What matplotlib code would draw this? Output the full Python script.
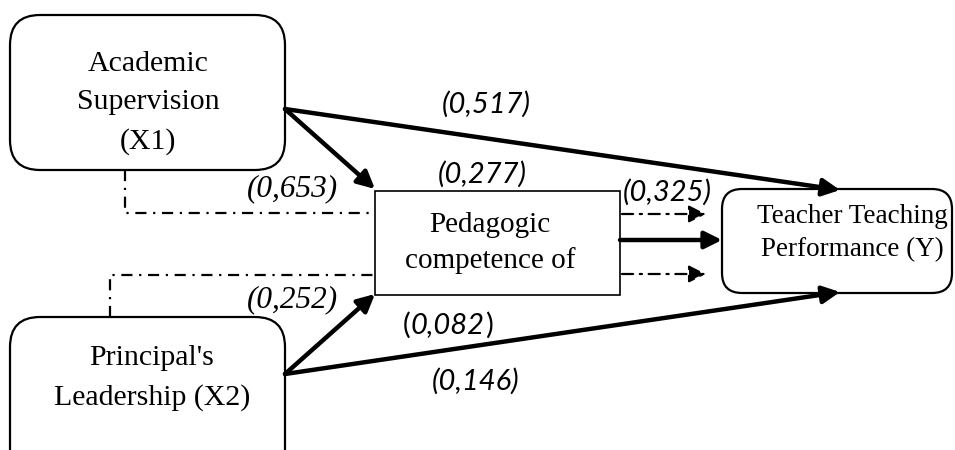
import matplotlib.pyplot as plt
from matplotlib.patches import FancyBboxPatch, Rectangle, FancyArrowPatch

# path diagram values
node_labels = {
    "X1": "Academic\nSupervision\n(X1)",
    "X2": "Principal's\nLeadership (X2)",
    "M": "Pedagogic\ncompetence of",
    "Y": "Teacher Teaching\nPerformance (Y)",
}
coef_labels = ["(0,517)", "(0,277)", "(0,325)", "(0,653)", "(0,252)", "(0,082)", "(0,146)"]

fig = plt.figure(figsize=(9.55, 4.5), dpi=100)
ax = fig.add_axes([0, 0, 1, 1])
ax.set_xlim(0, 955)
ax.set_ylim(450, 0)
ax.axis("off")

serif = "Liberation Serif"
sans = "Lato"

# boxes (pixel coordinates, y downwards)
ax.add_patch(FancyBboxPatch((40, 45), 215, 95, boxstyle="round,pad=30",
                            fc="white", ec="black", lw=1.6, zorder=2))
ax.add_patch(FancyBboxPatch((40, 347), 215, 120, boxstyle="round,pad=30",
                            fc="white", ec="black", lw=1.6, zorder=2))
ax.add_patch(Rectangle((375, 191), 245, 104, fc="white", ec="black", lw=1.2, zorder=2))
ax.add_patch(FancyBboxPatch((742, 209), 190, 64, boxstyle="round,pad=20",
                            fc="white", ec="black", lw=1.6, zorder=2))

ax.text(148, 103, node_labels["X1"], family=serif, fontsize=21.5, ha="center", va="center",
        linespacing=1.6, zorder=3)
ax.text(152, 378, node_labels["X2"], family=serif, fontsize=21.5, ha="center", va="center",
        linespacing=1.6, zorder=3)
ax.text(490, 243, node_labels["M"], family=serif, fontsize=21, ha="center", va="center",
        linespacing=1.42, zorder=3)
ax.text(852, 233, node_labels["Y"], family=serif, fontsize=19.5, ha="center", va="center",
        linespacing=1.47, zorder=3)


def arrow(p0, p1, lw=3.2, ls="-", scale=26):
    a = FancyArrowPatch(p0, p1, arrowstyle="-|>", mutation_scale=scale, lw=lw,
                        linestyle=ls, color="black", shrinkA=0, shrinkB=0, zorder=4)
    ax.add_patch(a)


# direct paths
arrow((285, 109), (840, 190))
arrow((285, 109), (375, 189))
arrow((285, 374), (375, 294))
arrow((285, 374), (840, 292))
arrow((620, 240), (722, 240))

# indirect (dash-dot) paths
dd = (0, (5, 3, 1, 3))
ax.plot([125, 125, 375], [170, 213, 213], color="black", lw=1.6, linestyle=dd, zorder=1)
ax.plot([110, 110, 375], [317, 275, 275], color="black", lw=1.6, linestyle=dd, zorder=1)
arrow((622, 214), (706, 214), lw=1.6, ls=dd, scale=26)
arrow((622, 274), (706, 274), lw=1.6, ls=dd, scale=26)

# coefficients
ax.text(486, 104, coef_labels[0], family=sans, style="italic", fontsize=21, ha="center", va="center")
ax.text(482, 174, coef_labels[1], family=sans, style="italic", fontsize=21, ha="center", va="center")
ax.text(667, 192, coef_labels[2], family=sans, style="italic", fontsize=21, ha="center", va="center")
ax.text(292, 189, coef_labels[3], family=serif, style="italic", fontsize=22.5, ha="center", va="center")
ax.text(292, 300, coef_labels[4], family=serif, style="italic", fontsize=22.5, ha="center", va="center")
ax.text(476, 381, coef_labels[6], family=sans, style="italic", fontsize=21, ha="center", va="center")

# (0,082): upright brackets, italic number
lab = coef_labels[5]
t1 = ax.text(403, 325, lab[0], family=sans, fontsize=21, ha="left", va="center")
t2 = ax.annotate(lab[1:-1], xy=(1, 0), xycoords=t1, family=sans, style="italic",
                 fontsize=21, ha="left", va="bottom")
ax.annotate(lab[-1], xy=(1, 0), xycoords=t2, family=sans, fontsize=21, ha="left", va="bottom")

fig.savefig("out.png", dpi=100)
